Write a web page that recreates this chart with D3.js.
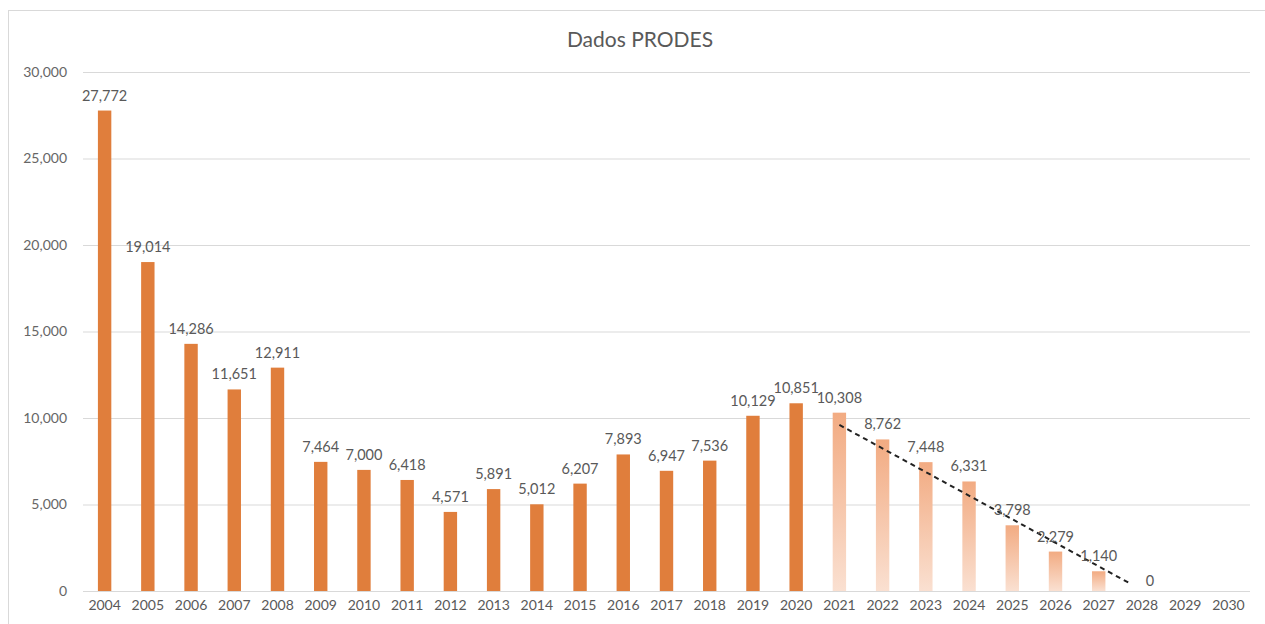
<!DOCTYPE html>
<html>
<head>
<meta charset="utf-8">
<title>Dados PRODES</title>
<script src="https://cdn.jsdelivr.net/npm/d3@7"></script>
<style>
  body { margin: 0; background: #fff; }
  text { font-family: Lato, "Open Sans", sans-serif; }
</style>
</head>
<body>
<svg width="1265" height="624"></svg>
<script>
// dados
const years = ['2004','2005','2006','2007','2008','2009','2010','2011','2012','2013','2014','2015','2016','2017','2018','2019','2020','2021','2022','2023','2024','2025','2026','2027','2028','2029','2030']
const values = [27772, 19014, 14286, 11651, 12911, 7464, 7000, 6418, 4571, 5891, 5012, 6207, 7893, 6947, 7536, 10129, 10851, 10308, 8762, 7448, 6331, 3798, 2279, 1140, 0, null, null]
const projectedFrom = '2021'
const yTicks = [0, 5000, 10000, 15000, 20000, 25000, 30000]
// linha de tendencia (tracejada): [ano, valor]
const trendYears = [2021, 2027.75]
const trendValues = [9600, 400]

const svg = d3.select('svg')
const margin = { top: 72, left: 83, right: 15, bottom: 33 }
const W = 1265, H = 624

svg.append('rect').attr('x', 8.5).attr('y', 10.5).attr('width', 1280).attr('height', 640)
  .attr('fill', '#fff').attr('stroke', '#d9d9d9')

const x = d3.scaleBand().domain(years).range([margin.left, W - margin.right]).paddingInner(0.69).paddingOuter(0.345)
const y = d3.scaleLinear().domain([0, 30000]).range([H - margin.bottom, margin.top])

const defs = svg.append('defs')
const grad = defs.append('linearGradient').attr('id', 'proj').attr('x1', 0).attr('y1', 0).attr('x2', 0).attr('y2', 1)
grad.append('stop').attr('offset', '0%').attr('stop-color', '#f2ab82')
grad.append('stop').attr('offset', '100%').attr('stop-color', '#fae0d1')

// grade
const yAxis = d3.axisLeft(y).tickValues(yTicks).tickSize(-(W - margin.right - margin.left)).tickFormat(d3.format(','))
const gy = svg.append('g').attr('transform', `translate(${margin.left},0)`).call(yAxis)
gy.select('.domain').remove()
gy.selectAll('.tick line').attr('stroke', '#d9d9d9').attr('stroke-width', 1.2)
gy.selectAll('.tick text').attr('x', -16).attr('fill', '#666').style('font-size', '14px')

const xAxis = d3.axisBottom(x).tickSize(0).tickPadding(9)
const gx = svg.append('g').attr('transform', `translate(0,${H - margin.bottom})`).call(xAxis)
gx.select('.domain').remove()
gx.selectAll('.tick text').attr('fill', '#595959').style('font-size', '14px')

const data = years.map((yr, i) => ({ year: yr, value: values[i], projected: +yr >= +projectedFrom }))
const withValue = data.filter(d => d.value !== null)

svg.append('g').selectAll('rect').data(withValue).join('rect')
  .attr('x', d => x(d.year))
  .attr('y', d => y(d.value))
  .attr('width', x.bandwidth())
  .attr('height', d => y(0) - y(d.value))
  .attr('fill', d => d.projected ? 'url(#proj)' : '#e07e3c')

// linha de tendencia
const xPos = yr => x(String(Math.floor(yr))) + x.bandwidth() / 2 + (yr - Math.floor(yr)) * x.step()
svg.append('line')
  .attr('x1', xPos(trendYears[0])).attr('y1', y(trendValues[0]))
  .attr('x2', xPos(trendYears[1])).attr('y2', y(trendValues[1]))
  .attr('stroke', '#222').attr('stroke-width', 2).attr('stroke-dasharray', '5,4')

// rotulos
svg.append('g').selectAll('text').data(withValue).join('text')
  .attr('x', d => x(d.year) + x.bandwidth() / 2 + (d.value === 0 ? 8 : 0))
  .attr('y', d => y(d.value) - (d.value === 0 ? 5 : 10))
  .attr('text-anchor', 'middle')
  .attr('fill', '#595959')
  .style('font-size', '14.5px')
  .text(d => d3.format(',')(d.value))

svg.append('text').attr('x', 640).attr('y', 47).attr('text-anchor', 'middle')
  .attr('fill', '#595959').style('font-size', '21px').text('Dados PRODES')
</script>
</body>
</html>
